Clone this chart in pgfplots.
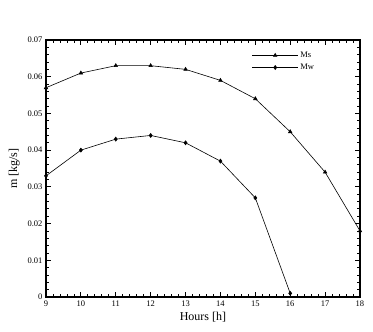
\documentclass[border=0pt]{standalone}
\usepackage{fontspec}
\setmainfont{Liberation Serif}
\usepackage{pgfplots}
\pgfplotsset{compat=1.18}

\begin{document}
\begin{tikzpicture}
\begin{axis}[
  scale only axis,
  width=314pt, height=257pt,
  xmin=9, xmax=18, ymin=0, ymax=0.07,
  xtick={9,10,...,18},
  ytick={0,0.01,...,0.07},
  scaled y ticks=false,
  minor x tick num=4, minor y tick num=4,
  tick align=inside,
  major tick length=5pt, minor tick length=3pt,
  axis line style={line width=1.2pt},
  every tick/.style={black, line width=0.8pt},
  /pgf/number format/assume math mode=true,
  y tick label style={/pgf/number format/fixed, /pgf/number format/precision=2},
  ticklabel style={font=\fontsize{8.5}{10}\selectfont},
  xlabel={Hours [h]}, ylabel={m [kg/s]},
  label style={font=\fontsize{12}{14}\selectfont},
  xlabel style={yshift=1pt},
  ylabel style={yshift=1pt},
  legend style={draw=none, fill=none, at={(0.87,0.97)}, anchor=north east,
    font=\fontsize{8.5}{10}\selectfont, row sep=1pt},
  legend cell align=left,
  legend image code/.code={
    \draw[mark repeat=2, mark phase=2, #1] plot coordinates {(0cm,0cm) (0.8cm,0cm) (1.6cm,0cm)};
  },
]
\addplot[black, line width=0.6pt, mark=triangle*, mark size=2pt] coordinates {
  (9,0.057) (10,0.061) (11,0.063) (12,0.063) (13,0.062) (14,0.059) (15,0.054) (16,0.045) (17,0.034) (18,0.018)
};
\addlegendentry{Ms}
\addplot[black, line width=0.6pt, mark=diamond*, mark size=2pt] coordinates {
  (9,0.033) (10,0.040) (11,0.043) (12,0.044) (13,0.042) (14,0.037) (15,0.027) (16,0.001)
};
\addlegendentry{Mw}
\end{axis}
\path (-46pt,-35pt) rectangle (327pt,297pt);
\end{tikzpicture}
\end{document}
